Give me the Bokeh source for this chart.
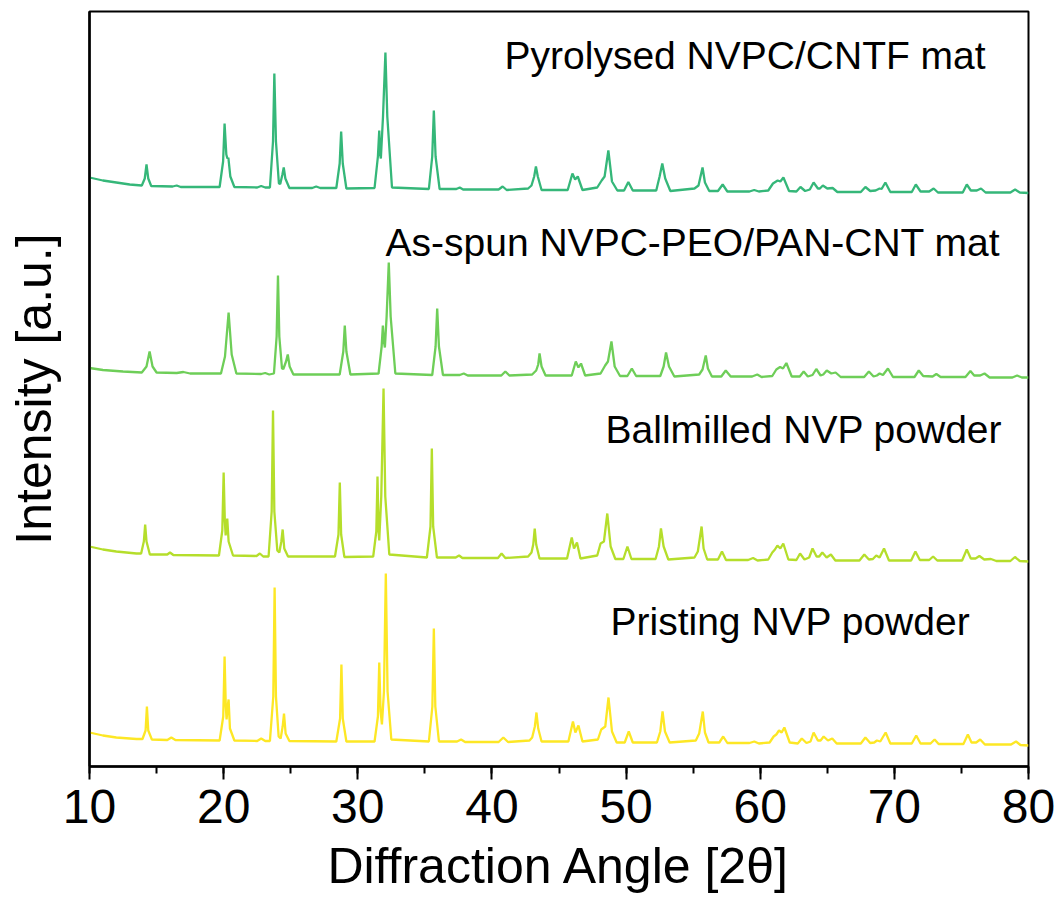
from bokeh.plotting import figure
from bokeh.models import Range1d, Label, SingleIntervalTicker, FixedTicker
from bokeh.embed import file_html
from bokeh.resources import INLINE

# ---- data (2theta in degrees, intensity in a.u., series stacked) ----
A_x = [10.0, 11.0, 12.0, 13.0, 13.9, 14.12, 14.25, 14.38, 14.6, 16.2, 16.5, 16.8, 19.7, 19.96, 20.07, 20.2, 20.28, 20.35, 20.5, 20.8,
       22.5, 22.8, 23.1, 23.45, 23.68, 23.78, 23.9, 24.12, 24.22, 24.38, 24.48, 24.6, 24.9, 26.6, 26.9, 27.2, 28.4, 28.65, 28.76, 28.88,
       29.15, 31.25, 31.5, 31.6, 31.67, 31.72, 31.88, 32.06, 32.2, 32.55, 35.3, 35.55, 35.67, 35.8, 36.1, 37.35, 37.6, 37.85, 40.5, 40.8,
       41.1, 42.7, 42.95, 43.15, 43.28, 43.42, 43.7, 45.65, 46.0, 46.2, 46.4, 46.75, 47.85, 48.18, 48.4, 48.68, 48.95, 49.35, 49.85, 50.17,
       50.5, 52.25, 52.5, 52.7, 52.92, 53.3, 55.1, 55.4, 55.7, 55.88, 56.2, 56.85, 57.2, 57.55, 59.2, 59.55, 59.9, 60.6, 60.95, 61.3,
       61.5, 61.73, 62.15, 62.7, 63.0, 63.35, 63.7, 63.98, 64.3, 64.45, 64.67, 65.0, 65.4, 65.75, 67.5, 67.84, 68.2, 68.6, 68.9, 69.05,
       69.33, 69.7, 71.3, 71.6, 71.95, 72.6, 72.93, 73.25, 75.1, 75.4, 75.7, 76.15, 76.46, 76.8, 78.65, 79.0, 79.35, 80.0]
A_y = [589, 586, 584, 582, 581, 588, 602, 588, 580.5, 580, 581, 579.5, 579.5, 605, 643, 612, 608, 609, 590, 579.5,
       579, 580.5, 579, 579, 625, 693, 625, 583, 582.5, 592, 599, 588, 578.5, 578.5, 580, 578.5, 578.5, 603, 635, 603,
       578, 578.5, 610, 636, 612, 608, 650, 714, 650, 579, 577.5, 610, 656, 610, 577.5, 577.5, 579, 577, 577, 580,
       576.5, 578, 581, 590, 600, 590, 576.5, 576.5, 593, 587, 590, 576.5, 579, 586, 590, 616, 585, 576, 576, 584.5,
       576, 576, 590, 603, 588, 575.5, 578, 581, 599, 584, 575.5, 575.5, 582, 575, 575, 576.5, 575, 576, 583, 586,
       585, 589, 575.5, 575, 579.5, 575.5, 577, 584, 578, 578, 581, 578, 578.5, 574.5, 574.5, 579.5, 575.5, 576, 578, 577.5,
       584, 574.5, 574.5, 582, 575, 575, 578, 574, 574, 582, 576, 576, 578, 574, 574, 577, 574, 573.5]

B_x = [10.0, 11.0, 12.5, 13.9, 14.25, 14.48, 14.7, 15.0, 16.5, 17.0, 17.5, 19.8, 20.1, 20.37, 20.6, 20.95, 22.8, 23.1, 23.4, 23.75,
       23.95, 24.05, 24.15, 24.35, 24.45, 24.65, 24.78, 24.92, 25.2, 28.65, 28.92, 29.03, 29.15, 29.45, 31.55, 31.78, 31.87, 31.95, 32.02, 32.15,
       32.31, 32.45, 32.8, 35.55, 35.8, 35.92, 36.05, 36.35, 37.6, 37.9, 38.2, 40.7, 41.0, 41.3, 43.0, 43.3, 43.45, 43.55, 43.7, 44.0,
       45.95, 46.25, 46.45, 46.64, 46.95, 48.1, 48.44, 48.65, 48.91, 49.15, 49.55, 50.1, 50.43, 50.75, 52.55, 52.8, 52.98, 53.2, 53.6, 55.45,
       55.7, 55.94, 56.1, 56.4, 57.1, 57.43, 57.8, 59.4, 59.78, 60.1, 60.9, 61.2, 61.48, 61.7, 61.95, 62.35, 62.95, 63.24, 63.55, 63.9,
       64.18, 64.5, 64.7, 64.96, 65.3, 65.62, 66.0, 67.75, 68.1, 68.45, 68.7, 68.9, 69.15, 69.52, 69.9, 71.5, 71.82, 72.15, 72.85, 73.13,
       73.45, 75.3, 75.67, 75.95, 76.4, 76.72, 77.1, 78.8, 79.15, 79.5, 80.0]
B_y = [398.5, 396.5, 395, 394, 400, 415, 400, 394, 393.5, 394.5, 393, 393, 410, 454, 412, 393, 392.5, 393.5, 392, 393,
       430, 491, 430, 398, 397.5, 405, 412, 400, 392, 392, 415, 441, 415, 392, 393, 420, 441, 425, 419, 450,
       504, 450, 393, 391.5, 420, 458, 420, 391.5, 391.5, 393, 391, 391, 395, 391, 392, 396, 402, 413, 400, 391,
       391, 405, 399, 403, 391, 393, 401, 405, 425, 400, 390.5, 390.5, 398, 390.5, 390.5, 400, 414, 400, 390, 392,
       397, 411, 398, 390, 390, 396, 390, 390, 392, 389.5, 390.5, 397, 399.5, 398, 403.5, 390, 390, 395, 390, 391.5,
       397.5, 391, 392, 396, 393, 394, 389.5, 389.5, 395, 390, 391, 393, 391.5, 398, 389.5, 389.5, 396, 390.5, 390, 392.5,
       389.5, 389.5, 395.5, 391, 391, 393, 389, 389, 391, 389, 389]

C_x = [10.0, 11.0, 12.0, 13.5, 13.85, 14.05, 14.15, 14.25, 14.5, 15.8, 16.0, 16.25, 19.65, 19.9, 20.0, 20.09, 20.15, 20.21, 20.27, 20.37,
       20.7, 22.45, 22.7, 22.95, 23.35, 23.58, 23.68, 23.78, 24.0, 24.15, 24.3, 24.4, 24.52, 24.8, 28.3, 28.56, 28.66, 28.76, 29.0, 31.15,
       31.38, 31.47, 31.55, 31.6, 31.75, 31.92, 32.05, 32.35, 35.15, 35.42, 35.52, 35.62, 35.9, 37.3, 37.55, 37.8, 40.45, 40.72, 41.0, 42.7,
       42.95, 43.08, 43.19, 43.3, 43.55, 45.6, 45.95, 46.12, 46.34, 46.6, 47.85, 48.1, 48.35, 48.6, 48.85, 49.2, 49.8, 50.1, 50.4, 52.2,
       52.45, 52.6, 52.8, 53.15, 55.1, 55.35, 55.63, 55.78, 56.05, 56.85, 57.15, 57.45, 59.1, 59.47, 59.8, 60.6, 60.9, 61.1, 61.28, 61.5,
       61.72, 62.1, 62.7, 62.97, 63.3, 63.65, 63.9, 64.2, 64.4, 64.63, 64.95, 65.27, 65.6, 67.4, 67.76, 68.1, 68.4, 68.65, 68.9, 69.23,
       69.6, 71.25, 71.57, 71.9, 72.6, 72.89, 73.2, 75.05, 75.4, 75.7, 76.05, 76.34, 76.7, 77.2, 77.6, 78.65, 78.99, 79.35, 80.0]
C_y = [220, 217, 215, 213, 213, 225, 242, 225, 212, 212, 214, 211.5, 211, 236, 294, 245, 231, 240, 248, 225,
       211, 210.5, 213, 210, 210, 255, 356, 255, 216, 214, 225, 237, 218, 210, 210, 232, 284, 232, 209.5, 210,
       235, 290, 235, 226, 270, 378, 270, 212, 209, 240, 318, 240, 209, 209, 211, 208.5, 208.5, 213, 208.5, 210,
       214, 222, 238, 222, 208, 208, 229, 218, 224, 208, 211, 223, 225, 253, 220, 207.5, 207.5, 220, 207.5, 207.5,
       220, 238, 220, 207, 209, 215, 240, 218, 207, 207, 215, 206.5, 206.5, 208.5, 206, 207, 214, 217, 221, 218,
       223, 207, 206.5, 213, 207, 209, 218, 210, 210, 214, 209, 212, 206, 206, 212, 207, 207.5, 211, 209, 218,
       206, 206, 215, 206.5, 206.5, 210, 206, 206, 217, 208, 208, 210.5, 207, 207.5, 205.5, 205.5, 209.5, 205.5, 205]

D_x = [10.0, 11.0, 12.0, 13.5, 13.95, 14.18, 14.28, 14.38, 14.65, 15.8, 16.1, 16.4, 19.7, 19.97, 20.07, 20.16, 20.22, 20.3, 20.37, 20.47,
       20.8, 22.5, 22.8, 23.1, 23.45, 23.7, 23.8, 23.9, 24.1, 24.25, 24.4, 24.5, 24.62, 24.9, 28.4, 28.68, 28.78, 28.88, 29.15, 31.25,
       31.5, 31.6, 31.7, 31.8, 31.95, 32.09, 32.22, 32.5, 35.3, 35.56, 35.67, 35.78, 36.05, 37.4, 37.7, 38.0, 40.5, 40.85, 41.2, 42.8,
       43.0, 43.2, 43.32, 43.45, 43.7, 45.7, 46.04, 46.22, 46.45, 46.75, 47.9, 48.15, 48.45, 48.69, 48.95, 49.3, 49.9, 50.2, 50.5, 52.3,
       52.55, 52.72, 52.9, 53.25, 55.2, 55.45, 55.72, 55.88, 56.15, 56.95, 57.24, 57.55, 59.2, 59.56, 59.9, 60.7, 61.0, 61.2, 61.4, 61.6,
       61.8, 62.2, 62.8, 63.1, 63.45, 63.75, 63.98, 64.3, 64.5, 64.73, 65.05, 65.37, 65.7, 67.5, 67.84, 68.2, 68.5, 68.7, 68.95, 69.35,
       69.7, 71.3, 71.63, 71.95, 72.7, 73.0, 73.3, 75.15, 75.48, 75.75, 76.1, 76.4, 76.75, 78.7, 79.07, 79.4, 80.0]
D_y = [34, 31, 29, 27.5, 27.5, 36, 60, 36, 27, 26.5, 29, 26.5, 26, 50, 110, 60, 47, 60, 67, 38,
       26, 25.5, 28, 25.5, 25.5, 70, 179, 70, 30, 28, 40, 53, 33, 25.5, 25, 48, 102, 48, 25, 25,
       50, 104, 55, 42, 75, 193, 75, 27, 25, 60, 138, 60, 25, 25, 27, 24.5, 24.5, 29, 24.5, 26,
       29, 40, 54, 38, 25, 25, 45, 34, 41, 25, 27, 37, 40, 69, 35, 24, 24, 35, 24, 24,
       35, 55, 35, 24, 26, 33, 55, 34, 24, 24, 30, 23.5, 23.5, 25, 23, 24, 30, 32, 36, 34,
       39, 24, 23, 28, 23.5, 25, 34, 26, 26, 30, 26, 28, 23, 23, 29, 23.5, 24, 26, 25, 34,
       23, 23, 31, 23, 23, 27, 22.5, 22.5, 32, 24, 24, 27, 22, 22, 25, 21.5, 21]

series_x = [D_x, C_x, B_x, A_x]
series_y = [D_y, C_y, B_y, A_y]
series_names = ["Pristing NVP powder", "Ballmilled NVP powder",
                "As-spun NVPC-PEO/PAN-CNT mat", "Pyrolysed NVPC/CNTF mat"]
series_colors = ["#FDE725", "#B5DE2B", "#6ECE58", "#35B779"]
# label anchor (2theta, intensity) for each series name
label_x = [48.84, 48.47, 32.07, 40.94]
label_y = [145, 337, 524, 711]

x_ticks_interval = 10

FONT = "Liberation Sans"

p = figure(width=1060, height=907, output_backend="svg", toolbar_location=None,
           x_range=Range1d(10, 80), y_range=Range1d(0, 755),
           min_border_left=89, min_border_right=32, min_border_top=11, min_border_bottom=141)
p.grid.visible = False
p.outline_line_color = "black"
p.outline_line_width = 2
p.background_fill_color = "white"
p.border_fill_color = "white"

for xs, ys, c in zip(series_x, series_y, series_colors):
    p.line(xs, ys, line_color=c, line_width=2.3)

for name, lx, ly in zip(series_names, label_x, label_y):
    p.add_layout(Label(x=lx, y=ly, text=name, text_font=FONT, text_font_size="39px",
                       text_color="black", text_baseline="alphabetic", text_align="left"))

xa = p.xaxis[0]
xa.ticker = SingleIntervalTicker(interval=x_ticks_interval, num_minor_ticks=2)
xa.axis_line_width = 2.5
xa.axis_line_color = "black"
xa.major_tick_out = 13
xa.major_tick_in = 0
xa.minor_tick_out = 7
xa.minor_tick_in = 0
xa.major_tick_line_width = 2
xa.minor_tick_line_width = 2
xa.major_tick_line_color = "black"
xa.minor_tick_line_color = "black"
xa.major_label_text_font = FONT
xa.major_label_text_font_size = "48px"
xa.major_label_text_color = "black"
xa.major_label_standoff = 10
xa.axis_label = "Diffraction Angle [2θ]"
xa.axis_label_text_font = FONT
xa.axis_label_text_font_size = "50px"
xa.axis_label_text_font_style = "normal"
xa.axis_label_text_color = "black"
xa.axis_label_standoff = 12

ya = p.yaxis[0]
ya.ticker = FixedTicker(ticks=[])
ya.axis_line_width = 2.5
ya.axis_line_color = "black"
ya.major_tick_out = 0
ya.major_tick_in = 0
ya.minor_tick_out = 0
ya.minor_tick_in = 0
ya.axis_label = "Intensity [a.u.]"
ya.axis_label_text_font = FONT
ya.axis_label_text_font_size = "50px"
ya.axis_label_text_font_style = "normal"
ya.axis_label_text_color = "black"
ya.axis_label_standoff = 28

open("out.html", "w").write(file_html(p, INLINE))
